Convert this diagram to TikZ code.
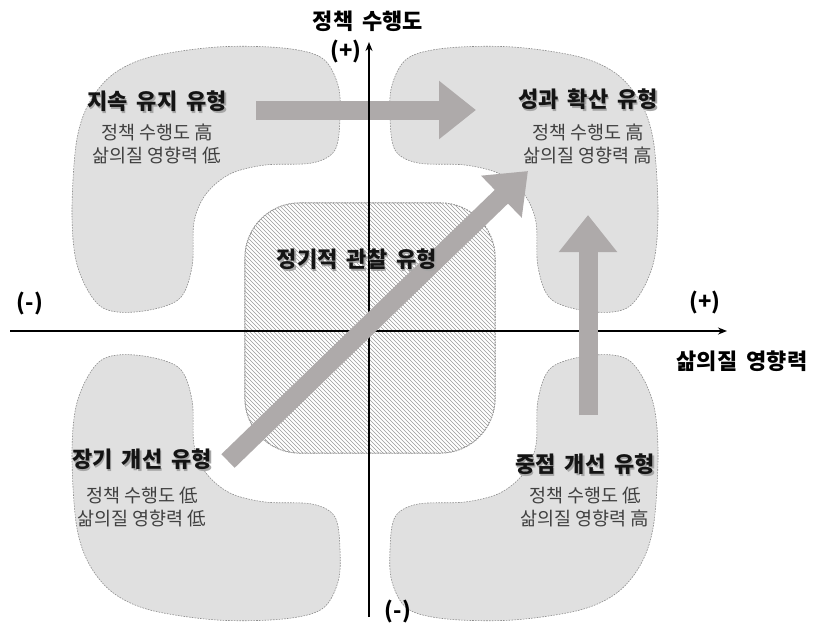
\documentclass[tikz,border=0pt]{standalone}
\usepackage{fontspec}
\setmainfont{Noto Sans CJK KR}
\usetikzlibrary{arrows.meta}
\definecolor{blobfill}{HTML}{E0E0E0}
\definecolor{blobline}{HTML}{8C8C8C}
\definecolor{arrowgray}{HTML}{AEAAAA}
\definecolor{subtxt}{HTML}{404040}
\definecolor{hatchline}{HTML}{9A9A9A}
\protected\def\widesp{\spaceskip=0.42em\relax}
\newcommand\shtext[1]{\makebox[0pt][l]{\raisebox{-1.4pt}{\hspace{1.4pt}\textcolor{black!35}{#1}}}#1}
\begin{document}
\begin{tikzpicture}[x=1pt,y=-1pt,
  blob/.style={fill=blobfill, draw=blobline, line width=0.6pt, dash pattern=on 1.6pt off 1.2pt},
  hatchbox/.style={fill=white, draw=blobline, line width=0.6pt, dash pattern=on 1.6pt off 1.2pt},
  hatch/.style={draw=hatchline, line width=0.55pt},
  title/.style={font=\fontsize{22}{26}\selectfont\bfseries\widesp, text=black!92, inner sep=0pt},
  sub/.style={font=\fontsize{18.5}{23}\selectfont, text=subtxt, align=center, inner sep=0pt},
  axlabel/.style={font=\fontsize{22}{26}\selectfont\bfseries\widesp, inner sep=0pt},
  axis/.style={line width=2.4pt, -{Stealth[length=9pt,width=7pt]}},
  blockarrow/.style={draw=arrowgray, line width=19pt, -{Triangle[length=37pt,width=56pt]}},
]
\useasboundingbox (0,0) rectangle (817,625);
\def\blobpath{plot[smooth cycle, tension=0.55] coordinates {(150,57) (217,47) (283,48) (322,58) (338,85) (340,117) (335,150) (312,163) (265,165) (230,174) (206,194) (194,222) (192,267) (178,300) (135,312) (100,306) (78,268) (72,217) (76,145) (88,105) (112,75)}}
% blobs
\draw[blob] \blobpath;
\begin{scope}[shift={(730,0)}, xscale=-1]
  \draw[blob] \blobpath;
\end{scope}
\begin{scope}[shift={(0,667)}, yscale=-1]
  \draw[blob] \blobpath;
\end{scope}
\begin{scope}[shift={(730,667)}, xscale=-1, yscale=-1]
  \draw[blob] \blobpath;
\end{scope}
% centre hatched box
\node[hatchbox, minimum width=250pt, minimum height=250pt, rounded corners=55pt] (mid) at (370,328) {};
\begin{scope}
  \clip[rounded corners=55pt] (245,203) rectangle (495,453);
  \foreach \i in {-252,-248,...,252}
    \draw[hatch] (245+\i,203) -- (495+\i,453);
\end{scope}
\draw[draw=blobline, line width=0.6pt, dash pattern=on 1.6pt off 1.2pt, rounded corners=55pt] (mid.south west) rectangle (mid.north east);
% horizontal block arrow
\coordinate (ha) at (256,110);
\coordinate (hb) at (476,110);
\draw[blockarrow] (ha) -- (hb);
% axes
\coordinate (vb) at (369,617);
\coordinate (vt) at (369,42);
\coordinate (hl) at (10,331);
\coordinate (hr) at (727,331);
\draw[axis] (vb) -- (vt);
\draw[axis] (hl) -- (hr);
% diagonal and vertical block arrows
\coordinate (da) at (228,461);
\coordinate (db) at (528,171);
\draw[blockarrow] (da) -- (db);
\coordinate (va) at (588,415);
\coordinate (vb2) at (588,215);
\draw[blockarrow] (va) -- (vb2);
\node[title] (tmid) at (357,260) {\shtext{정기적 관찰 유형}};
% axis labels
\node[axlabel] (ytitle) at (368,21) {정책 수행도};
\node[axlabel] (yplus) at (346,51) {(+)};
\node[axlabel] (xminus) at (30,303) {(-)};
\node[axlabel] (xplus) at (705,302) {(+)};
\node[axlabel] (xtitle) at (742,361) {삶의질 영향력};
\node[axlabel] (yminus) at (398,611) {(-)};
% quadrant texts
\node[title] (t1) at (157,102) {\shtext{지속 유지 유형}};
\node[sub] (s1) at (157,143.5) {정책 수행도 高\\삶의질 영향력 低};
\node[title] (t2) at (588,100) {\shtext{성과 확산 유형}};
\node[sub] (s2) at (588,143.5) {정책 수행도 高\\삶의질 영향력 高};
\node[title] (t3) at (142,460) {\shtext{장기 개선 유형}};
\node[sub] (s3) at (142,506.5) {정책 수행도 低\\삶의질 영향력 低};
\node[title] (t4) at (585,465) {\shtext{중점 개선 유형}};
\node[sub] (s4) at (585,507) {정책 수행도 低\\삶의질 영향력 高};
\end{tikzpicture}
\end{document}
